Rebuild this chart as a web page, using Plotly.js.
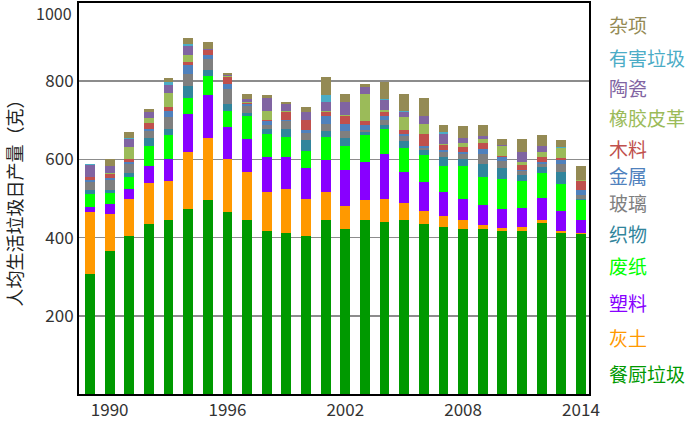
<!DOCTYPE html>
<html>
<head>
<meta charset="utf-8">
<script src="https://cdn.plot.ly/plotly-3.0.1.min.js"></script>
<style>html,body{margin:0;padding:0;background:#fff;}#chart{width:700px;height:425px;}</style>
</head>
<body>
<div id="chart"></div>
<script>
// ---- data ----
var years = [1989,1990,1991,1992,1993,1994,1995,1996,1997,1998,1999,2000,2001,2002,2003,2004,2005,2006,2007,2008,2009,2010,2011,2012,2013,2014];
var kitchen  = [308,365,403,436,444,473,495,465,446,418,413,403,444,421,446,439,446,435,428,421,421,418,418,437,411,409]; // 餐厨垃圾
var ash      = [158,96,95,104,102,147,159,137,123,98,111,95,72,59,49,59,42,34,26,23,12,7,10,7,7,4];               // 灰土
var plastic  = [12,26,26,43,54,96,110,81,84,89,81,81,82,93,99,115,80,74,62,54,50,48,48,58,51,31];               // 塑料
var paper    = [33,27,31,52,62,41,49,41,57,60,53,42,60,62,68,64,61,67,67,85,72,78,70,64,67,51];                 // 废纸
var textile  = [10,9,9,21,15,31,15,17,9,12,21,29,15,21,8,11,18,15,22,19,34,26,15,15,31,3];                       // 织物
var glass    = [22,25,24,16,32,31,30,39,17,12,18,18,18,17,5,13,12,5,14,12,26,20,9,8,22,10];                      // 玻璃
var metal    = [5,5,5,5,16,22,9,12,5,9,5,8,20,17,13,10,5,4,6,5,12,8,3,5,9,14];                                  // 金属
var wood     = [7,10,9,16,10,8,12,20,3,2,20,24,11,22,11,10,10,31,12,13,15,4,12,13,6,24];                        // 木料
var rubber   = [1,1,30,12,34,19,2,1,3,24,2,2,2,2,69,5,34,26,2,11,11,26,8,13,24,1];                              // 橡胶皮革
var ceramic  = [30,19,21,15,22,22,2,3,7,33,17,19,22,32,17,26,14,19,26,11,6,2,26,14,2,1];                        // 陶瓷
var hazard   = [1,1,1,2,6,6,0,1,0,1,1,1,19,2,1,2,2,1,4,1,1,1,1,1,1,0];                                         // 有害垃圾
var misc     = [1,16,15,7,11,15,18,4,13,7,4,13,45,20,6,45,43,46,18,30,27,15,32,28,19,36];                       // 杂项

var seriesNames = ["餐厨垃圾","灰土","塑料","废纸","织物","玻璃","金属","木料","橡胶皮革","陶瓷","有害垃圾","杂项"];
var seriesData  = [kitchen, ash, plastic, paper, textile, glass, metal, wood, rubber, ceramic, hazard, misc];
var xTicks = [1990,1996,2002,2008,2014];
var yTicks = [200,400,600,800,1000];
var yTitle = "人均生活垃圾日产量（克）";

// ---- style ----
var colors = ["#009900","#FF9900","#8800FF","#00FF00","#31859C","#7F7F7F","#4F81BD","#C0504D","#9BBB59","#8064A2","#4BACC6","#948A54"];
var legendPx = [373,337,302,265,233,203,175,148,117,87,57,25]; // pixel y of legend labels, same order as series
var plotTop = 3, plotBottom = 394, plotLeft = 79, plotRight = 589;
var FONT = "Noto Sans CJK SC, sans-serif";
var H = plotBottom - plotTop, W = plotRight - plotLeft;

var traces = seriesData.map(function(d, i){
  return {type:"bar", x:years, y:d, name:seriesNames[i], width:0.5,
          marker:{color:colors[i], line:{width:0}}, showlegend:false};
});

var annotations = seriesNames.map(function(n, i){
  return {xref:"paper", yref:"paper", x:(607-plotLeft)/W,
          y:(plotBottom-legendPx[i])/H, xanchor:"left", yanchor:"middle",
          text:n, showarrow:false, font:{family:FONT, size:19, color:colors[i]}};
});
// top tick label (sits just inside the top edge, as in the reference)
var topTick = yTicks[yTicks.length-1];
annotations.push({xref:"paper", yref:"paper", x:(73-plotLeft)/W, y:(plotBottom-0.5)/H,
  xanchor:"right", yanchor:"top", borderpad:0, text:String(topTick), showarrow:false,
  font:{family:FONT, size:16, color:"#333"}});
var innerTicks = yTicks.slice(0, yTicks.length-1);

var layout = {
  width:700, height:425,
  margin:{l:plotLeft, r:700-plotRight, t:plotTop, b:425-plotBottom},
  barmode:"stack",
  paper_bgcolor:"#fff", plot_bgcolor:"#fff",
  font:{family:FONT, size:17, color:"#333"},
  xaxis:{range:[1988.44,2014.41], tickvals:xTicks, ticktext:xTicks.map(String), showgrid:false, zeroline:false,
         showline:true, linecolor:"#000", linewidth:2, mirror:true, ticks:"", tickfont:{size:17, color:"#333"}},
  yaxis:{range:[0,topTick], tickvals:innerTicks, ticktext:innerTicks.map(String), showgrid:true, gridcolor:"#8c8c8c", gridwidth:1.5,
         zeroline:false, showline:true, linecolor:"#000", linewidth:2, mirror:true, ticks:"",
         tickfont:{size:17, color:"#333"}, title:{text:yTitle, font:{size:18, color:"#222"}, standoff:18}},
  annotations:annotations
};

Plotly.newPlot("chart", traces, layout, {staticPlot:true, displayModeBar:false});
</script>
</body>
</html>
